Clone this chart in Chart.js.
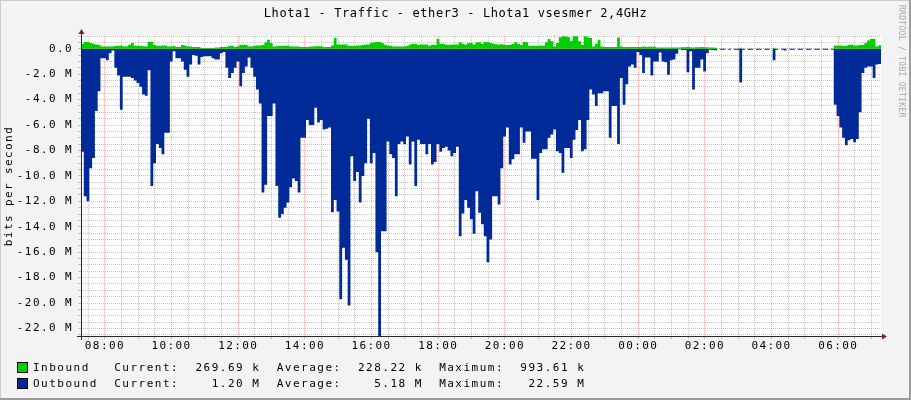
<!DOCTYPE html>
<html>
<head>
<meta charset="utf-8">
<title>Lhota1 - Traffic - ether3</title>
<script src="https://cdn.jsdelivr.net/npm/chart.js@4.4.1/dist/chart.umd.min.js"></script>
<style>
  html, body { margin: 0; padding: 0; background: #f3f3f3; }
  canvas { display: block; }
</style>
</head>
<body>
<canvas id="traffic" width="911" height="400"></canvas>
<script>
// 5-minute samples, 07:17 -> 07:17 next day, values in Mbit/s
const startMinute = 437;
const stepMinutes = 5;

const inbound0 = [
  0.39, 0.52, 0.52, 0.45, 0.39, 0.34, 0.31, 0.2, 0.18, 0.18,
  0.18, 0.18, 0.24, 0.24, 0.26, 0.18, 0.2, 0.31, 0.45, 0.24,
  0.24, 0.24, 0.2, 0.18, 0.55, 0.55, 0.3, 0.24, 0.24, 0.26,
  0.26, 0.18, 0.18, 0.24, 0.13, 0.13, 0.3, 0.25, 0.18, 0.18,
  0.13, 0.13, 0.13, 0.06, 0.05, 0.05, 0.05, 0.05, 0.1, 0.1,
  0.13, 0.13, 0.15, 0.24, 0.24, 0.13, 0.2, 0.31, 0.31, 0.31,
  0.18, 0.18, 0.24, 0.26, 0.26, 0.29, 0.5, 0.7, 0.45, 0.18,
  0.2, 0.24
];
const inbound1 = [
  0.24, 0.24, 0.24, 0.18, 0.18, 0.18, 0.18, 0.13, 0.13, 0.13,
  0.18, 0.18, 0.2, 0.2, 0.2, 0.13, 0.13, 0.13, 0.26, 0.86,
  0.34, 0.34, 0.34, 0.34, 0.24, 0.24, 0.24, 0.26, 0.26, 0.3,
  0.34, 0.34, 0.45, 0.5, 0.52, 0.52, 0.45, 0.31, 0.26, 0.24,
  0.18, 0.18, 0.18, 0.18, 0.18, 0.24, 0.34, 0.39, 0.39, 0.29,
  0.34, 0.34, 0.34, 0.24, 0.31, 0.29, 0.79, 0.39, 0.39, 0.31,
  0.31, 0.34, 0.34, 0.34, 0.5, 0.4, 0.34, 0.45, 0.45, 0.34,
  0.5, 0.5
];
const inbound2 = [
  0.39, 0.55, 0.5, 0.45, 0.39, 0.36, 0.34, 0.36, 0.31, 0.29,
  0.31, 0.38, 0.5, 0.4, 0.3, 0.55, 0.5, 0.24, 0.24, 0.24,
  0.24, 0.26, 0.24, 0.5, 0.76, 0.58, 0.18, 0.45, 0.9, 0.99,
  0.97, 0.92, 0.58, 0.99, 0.98, 0.58, 0.3, 0.99, 0.9, 0.84,
  0.18, 0.4, 0.7, 0.18, 0.13, 0.13, 0.13, 0.13, 0.13, 0.89,
  0.18, 0.13, 0.13, 0.13, 0.13, 0.13, 0.13, 0.13, 0.18, 0.13,
  0.15, 0.15, 0.15, 0.1, 0.1, 0.1, 0.1, 0.1, 0.1, 0.1,
  0.1, 0.1
];
const inbound3 = [
  0.12, 0.12, 0.13, 0.12, 0.1, 0.12, 0.12, 0.13, 0.12, 0.12,
  0.1, 0.1, 0.08, 0, 0, 0, 0, 0, 0, 0,
  0, 0.08, 0, 0, 0, 0, 0, 0, 0, 0,
  0, 0, 0, 0.08, 0, 0, 0, 0, 0, 0,
  0, 0, 0, 0, 0, 0, 0, 0, 0, 0,
  0, 0, 0, 0, 0, 0.26, 0.26, 0.26, 0.24, 0.24,
  0.31, 0.31, 0.26, 0.26, 0.29, 0.29, 0.45, 0.65, 0.76, 0.79,
  0.18, 0.27
];

const outbound0 = [
  -8.1, -11.6, -12.0, -9.4, -8.6, -4.9, -3.35, -0.75, -0.75, -0.9,
  -0.35, -0.15, -1.5, -2.1, -4.8, -2.2, -2.2, -2.2, -2.3, -2.5,
  -2.7, -3.0, -3.6, -3.7, -1.7, -10.8, -9.0, -7.5, -7.8, -8.3,
  -6.6, -6.6, -1.0, -0.2, -0.75, -0.75, -1.0, -1.65, -2.2, -1.25,
  -0.5, -0.55, -1.25, -0.65, -0.6, -0.6, -0.6, -0.75, -0.85, -0.85,
  -0.35, -0.25, -1.5, -2.3, -1.9, -1.5, -1.0, -2.95, -1.9, -1.4,
  -0.7, -1.5, -2.2, -3.2, -4.3, -11.3, -10.7, -5.3, -5.3, -4.3,
  -10.8, -13.3
];
const outbound1 = [
  -13.0, -12.5, -12.1, -10.9, -10.2, -10.4, -11.3, -7.0, -7.0, -5.6,
  -6.0, -6.0, -4.65, -5.8, -5.6, -6.35, -6.3, -6.2, -12.85, -11.9,
  -12.8, -19.7, -15.65, -16.6, -20.2, -8.45, -10.4, -9.7, -12.1, -10.0,
  -9.0, -5.5, -9.0, -8.2, -16.0, -22.59, -14.35, -14.35, -7.3, -8.3,
  -8.6, -11.6, -7.5, -7.3, -7.5, -6.9, -9.1, -7.3, -10.8, -7.15,
  -7.5, -7.5, -8.3, -7.5, -9.1, -8.9, -7.5, -8.1, -7.8, -7.7,
  -8.0, -8.45, -8.2, -7.7, -14.75, -12.95, -11.9, -12.5, -13.4, -14.55,
  -11.2, -12.9
];
const outbound2 = [
  -13.8, -14.75, -16.8, -15.0, -11.6, -11.6, -12.25, -9.4, -6.9, -6.2,
  -9.1, -8.7, -8.3, -8.3, -6.2, -7.4, -6.5, -6.5, -8.65, -8.65,
  -11.9, -8.2, -7.9, -7.9, -7.0, -6.75, -6.35, -8.06, -8.2, -9.75,
  -7.8, -7.8, -8.6, -7.15, -6.4, -5.6, -8.06, -7.9, -5.6, -3.2,
  -3.6, -4.5, -3.5, -3.5, -3.35, -3.35, -7.0, -4.5, -4.5, -7.5,
  -2.3, -4.4, -2.8, -1.4, -1.25, -1.5, -0.25, -0.5, -1.9, -0.7,
  -0.7, -2.1, -1.0, -1.0, -0.3, -1.0, -1.07, -2.05, -0.9, -0.85,
  -0.4, -0.05
];
const outbound3 = [
  -0.1, -0.1, -1.85, -0.2, -3.2, -1.5, -1.5, -0.85, -1.8, -0.35,
  -0.08, -0.1, -0.13, 0, -0.08, -0.08, 0, -0.08, 0, -0.08,
  -0.08, -2.65, -0.08, 0, -0.08, -0.08, 0, -0.08, -0.08, 0,
  -0.08, -0.08, 0, -0.9, -0.08, 0, -0.08, -0.15, 0, -0.08,
  -0.08, 0, -0.08, -0.08, 0, -0.08, -0.08, 0, -0.08, -0.08,
  0, -0.08, -0.08, 0, -0.08, -4.4, -5.3, -6.2, -7.0, -7.6,
  -7.2, -7.1, -7.35, -7.1, -5.0, -1.9, -1.5, -1.4, -1.4, -2.3,
  -1.25, -1.2
];

const xTickLabels = ['08:00', '10:00', '12:00', '14:00', '16:00', '18:00',
                     '20:00', '22:00', '00:00', '02:00', '04:00', '06:00'];
const firstLabelMinute = 480; // 08:00

const legendNames = ['Inbound', 'Outbound'];
const legendColors = ['#00CF00', '#002A97'];
const currentVals = [269.69, 1.20];
const averageVals = [228.22, 5.18];
const maximumVals = [993.61, 22.59];
const legendUnits = ['k', 'M'];

const titleText = 'Lhota1 - Traffic - ether3 - Lhota1 vsesmer 2,4GHz';
const FONT = '"DejaVu Sans Mono", "Liberation Mono", monospace';

const inbound = [...inbound0, ...inbound1, ...inbound2, ...inbound3];
const outbound = [...outbound0, ...outbound1, ...outbound2, ...outbound3];

// step points; last sample repeated at the end so its step is closed
function toPoints(values) {
  const pts = values.map((v, i) => ({ x: startMinute + i * stepMinutes, y: v }));
  pts.push({ x: startMinute + values.length * stepMinutes, y: values[values.length - 1] });
  return pts;
}

const xGrid = [];
for (let m = 450; m < startMinute + 24 * 60; m += 30) xGrid.push(m);
const yGrid = [];
for (let v = -22.5; v <= 1.0001; v += 0.5) yGrid.push(Math.round(v * 10) / 10);

const MINOR = 'rgba(128,128,128,0.45)';
const MAJOR = 'rgba(255,40,40,0.38)';
const isMajorY = v => Math.abs(v / 2 - Math.round(v / 2)) < 1e-6;
const isMajorX = v => (v - firstLabelMinute) % 120 === 0;

const rrdDecor = {
  id: 'rrdDecor',
  beforeLayout(chart) {
    chart.ctx.letterSpacing = '1.4px';
  },
  beforeDraw(chart) {
    const { ctx, chartArea: a } = chart;
    ctx.letterSpacing = '1.4px';
    ctx.save();
    ctx.fillStyle = '#F3F3F3';
    ctx.fillRect(0, 0, chart.width, chart.height);
    ctx.fillStyle = '#FFFFFF';
    ctx.fillRect(a.left, a.top, a.right - a.left, a.bottom - a.top);
    ctx.restore();
  },
  afterDraw(chart) {
    const { ctx, chartArea: a } = chart;
    ctx.save();

    // axes + arrows
    ctx.strokeStyle = '#2a2a2a';
    ctx.lineWidth = 1;
    ctx.beginPath();
    ctx.moveTo(a.left - 4, a.bottom + 0.5);
    ctx.lineTo(a.right + 2, a.bottom + 0.5);
    ctx.moveTo(a.left + 0.5, a.bottom + 4);
    ctx.lineTo(a.left + 0.5, a.top - 2);
    ctx.stroke();
    ctx.fillStyle = '#7F1F1F';
    ctx.beginPath();
    ctx.moveTo(a.left - 2.5, a.top - 2);
    ctx.lineTo(a.left + 3.5, a.top - 2);
    ctx.lineTo(a.left + 0.5, a.top - 7);
    ctx.closePath();
    ctx.fill();
    ctx.beginPath();
    ctx.moveTo(a.right + 1, a.bottom - 2.5);
    ctx.lineTo(a.right + 1, a.bottom + 3.5);
    ctx.lineTo(a.right + 6, a.bottom + 0.5);
    ctx.closePath();
    ctx.fill();

    // title
    ctx.fillStyle = '#000';
    ctx.font = '12px ' + FONT;
    ctx.letterSpacing = '0.6px';
    ctx.textAlign = 'center';
    ctx.textBaseline = 'middle';
    ctx.fillText(titleText, chart.width / 2, 14);

    // legend
    ctx.font = '11px ' + FONT;
    ctx.letterSpacing = '1.5px';
    ctx.textAlign = 'left';
    const fmt = v => v.toFixed(2).padStart(8);
    legendNames.forEach((name, k) => {
      const y = 363 + k * 16;
      ctx.fillStyle = legendColors[k];
      ctx.fillRect(18, y, 9, 9);
      ctx.strokeStyle = '#000';
      ctx.strokeRect(17.5, y - 0.5, 10, 10);
      const row = name.padEnd(10) +
        'Current:' + fmt(currentVals[k]) + ' ' + legendUnits[k] + '  ' +
        'Average:' + fmt(averageVals[k]) + ' ' + legendUnits[k] + '  ' +
        'Maximum:' + fmt(maximumVals[k]) + ' ' + legendUnits[k];
      ctx.fillStyle = '#000';
      ctx.fillText(row, 33, y + 5);
    });

    // watermark
    ctx.translate(901, 5);
    ctx.rotate(Math.PI / 2);
    ctx.font = '8px ' + FONT;
    ctx.letterSpacing = '0.3px';
    ctx.fillStyle = '#A8A8A8';
    ctx.fillText('RRDTOOL / TOBI OETIKER', 0, 0);
    ctx.setTransform(1, 0, 0, 1, 0, 0);

    // frame shading
    ctx.fillStyle = '#CBCBCB';
    ctx.fillRect(0, 0, chart.width, 1);
    ctx.fillRect(0, 0, 1, chart.height);
    ctx.fillStyle = '#9C9C9C';
    ctx.fillRect(chart.width - 2, 0, 2, chart.height);
    ctx.fillRect(0, chart.height - 2, chart.width, 2);

    ctx.restore();
    ctx.letterSpacing = '1.4px';
  }
};

new Chart(document.getElementById('traffic'), {
  type: 'line',
  data: {
    datasets: [
      { label: 'Inbound', data: toPoints(inbound), backgroundColor: '#00CF00',
        borderWidth: 0, fill: 'origin', stepped: true, pointRadius: 0 },
      { label: 'Outbound', data: toPoints(outbound), backgroundColor: '#002A97',
        borderWidth: 0, fill: 'origin', stepped: true, pointRadius: 0 }
    ]
  },
  options: {
    responsive: false,
    animation: false,
    layout: { padding: { top: 36, right: 30, bottom: 44, left: 0 } },
    plugins: {
      legend: { display: false },
      title: { display: false },
      tooltip: { enabled: false }
    },
    scales: {
      x: {
        type: 'linear',
        min: startMinute,
        max: startMinute + 24 * 60,
        z: 1,
        afterBuildTicks: scale => { scale.ticks = xGrid.map(v => ({ value: v })); },
        afterFit: scale => { scale.height = 20; },
        border: { display: false, dash: [1, 1] },
        grid: {
          color: c => isMajorX(c.tick.value) ? MAJOR : MINOR,
          tickColor: c => isMajorX(c.tick.value) ? MAJOR : MINOR,
          tickLength: 3
        },
        ticks: {
          autoSkip: false,
          maxRotation: 0,
          padding: 1,
          color: '#000',
          font: { family: FONT, size: 11 },
          callback: v => {
            const k = (v - firstLabelMinute) / 120;
            return Number.isInteger(k) ? xTickLabels[k] : '';
          }
        }
      },
      y: {
        type: 'linear',
        min: -22.59,
        max: 1.0,
        z: 1,
        afterBuildTicks: scale => { scale.ticks = yGrid.map(v => ({ value: v })); },
        afterFit: scale => { scale.width = 81; },
        border: { display: false, dash: [1, 1] },
        grid: {
          color: c => isMajorY(c.tick.value) ? MAJOR : MINOR,
          tickColor: c => isMajorY(c.tick.value) ? MAJOR : MINOR,
          tickLength: 3
        },
        title: {
          display: true,
          text: 'bits per second',
          color: '#000',
          font: { family: FONT, size: 11 },
          padding: { top: 3, bottom: 0 }
        },
        ticks: {
          autoSkip: false,
          padding: 5,
          color: '#000',
          font: { family: FONT, size: 11 },
          callback: v => {
            if (!isMajorY(v)) return '';
            return Math.abs(v) < 1e-9 ? '0.0' : v.toFixed(1) + ' M';
          }
        }
      }
    }
  },
  plugins: [rrdDecor]
});
</script>
</body>
</html>
